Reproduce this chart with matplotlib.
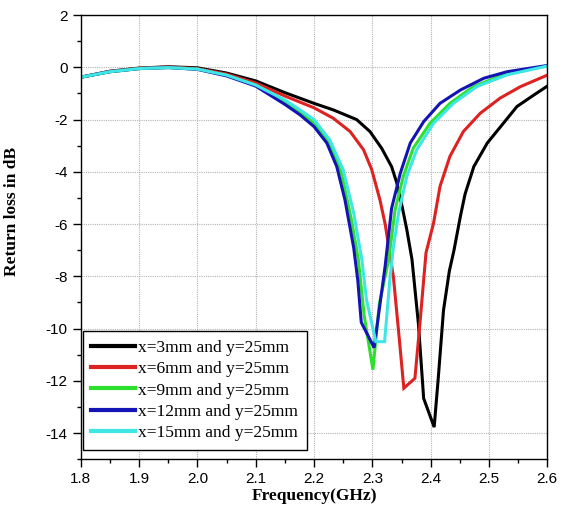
import numpy as np
import matplotlib
matplotlib.use("Agg")
import matplotlib.pyplot as plt
from matplotlib.ticker import MultipleLocator

# return loss curves for the different x values (y fixed at 25mm)
f_x3 = [1.80, 1.85, 1.90, 1.95, 2.00, 2.05, 2.10, 2.15, 2.20, 2.233, 2.273, 2.296,
        2.316, 2.333, 2.342, 2.351, 2.359, 2.368, 2.379, 2.388, 2.406, 2.413, 2.422,
        2.432, 2.440, 2.451, 2.459, 2.474, 2.497, 2.520, 2.548, 2.577, 2.60]
s_x3 = [-0.38, -0.15, -0.03, 0.02, -0.02, -0.22, -0.52, -0.97, -1.38, -1.63, -2.0, -2.46,
        -3.1, -3.8, -4.43, -5.32, -6.2, -7.36, -9.82, -12.67, -13.77, -11.9, -9.3,
        -7.8, -7.0, -5.7, -4.85, -3.8, -2.9, -2.27, -1.5, -1.06, -0.72]

f_x6 = [1.80, 1.85, 1.90, 1.95, 2.00, 2.05, 2.10, 2.15, 2.20, 2.233, 2.262, 2.285,
        2.299, 2.313, 2.322, 2.336, 2.346, 2.354, 2.373, 2.382, 2.392, 2.405, 2.416,
        2.433, 2.456, 2.485, 2.519, 2.554, 2.60]
s_x6 = [-0.38, -0.16, -0.04, 0.01, -0.05, -0.26, -0.6, -1.1, -1.55, -1.95, -2.46, -3.16,
        -3.92, -5.07, -6.0, -8.0, -10.34, -12.28, -11.9, -9.7, -7.1, -5.96, -4.56,
        -3.41, -2.46, -1.76, -1.18, -0.74, -0.3]

f_x9 = [1.80, 1.85, 1.90, 1.95, 2.00, 2.05, 2.10, 2.15, 2.176, 2.20, 2.227, 2.247,
        2.264, 2.276, 2.286, 2.301, 2.312, 2.328, 2.339, 2.353, 2.370, 2.399, 2.433,
        2.473, 2.531, 2.60]
s_x9 = [-0.38, -0.17, -0.05, -0.01, -0.07, -0.31, -0.68, -1.3, -1.73, -2.14, -2.9, -4.05,
        -5.83, -7.36, -9.5, -11.57, -9.05, -7.36, -5.45, -4.18, -3.1, -2.14, -1.38,
        -0.74, -0.23, 0.05]

f_x12 = [1.80, 1.85, 1.90, 1.95, 2.00, 2.05, 2.10, 2.15, 2.176, 2.20, 2.222, 2.239,
         2.253, 2.268, 2.275, 2.281, 2.303, 2.322, 2.333, 2.348, 2.365, 2.388, 2.416,
         2.451, 2.491, 2.531, 2.60]
s_x12 = [-0.38, -0.17, -0.05, -0.01, -0.08, -0.33, -0.72, -1.42, -1.82, -2.27, -2.9, -3.8,
         -5.07, -6.9, -8.14, -9.76, -10.73, -7.6, -5.4, -4.05, -2.9, -2.08, -1.38,
         -0.87, -0.42, -0.17, 0.07]

f_x15 = [1.80, 1.85, 1.90, 1.95, 2.00, 2.05, 2.10, 2.15, 2.176, 2.20, 2.227, 2.25,
         2.268, 2.282, 2.290, 2.306, 2.321, 2.330, 2.336, 2.345, 2.359, 2.376, 2.405,
         2.439, 2.479, 2.531, 2.60]
s_x15 = [-0.38, -0.17, -0.05, -0.01, -0.07, -0.3, -0.68, -1.25, -1.63, -2.0, -2.78, -3.92,
         -5.58, -7.36, -8.9, -10.5, -10.5, -8.14, -6.9, -5.58, -4.18, -3.16, -2.14,
         -1.38, -0.74, -0.29, 0.05]

labels = ["x=3mm and y=25mm", "x=6mm and y=25mm", "x=9mm and y=25mm",
          "x=12mm and y=25mm", "x=15mm and y=25mm"]
colors = ["#000000", "#dd2222", "#2ee02e", "#1414b4", "#3ee6e6"]

fig = plt.figure(figsize=(5.61, 5.29), dpi=100)
ax = fig.add_axes([0.1439, 0.1318, 0.8317, 0.8398])

series = [(f_x3, s_x3), (f_x6, s_x6), (f_x9, s_x9), (f_x12, s_x12), (f_x15, s_x15)]
for (f, s), lab, c in zip(series, labels, colors):
    ax.plot(f, s, color=c, lw=2.2, label=lab, solid_joinstyle="miter")

ax.set_xlim(1.8, 2.6)
ax.set_ylim(-15, 2)
ax.xaxis.set_major_locator(MultipleLocator(0.1))
ax.xaxis.set_minor_locator(MultipleLocator(0.05))
ax.yaxis.set_major_locator(MultipleLocator(2))
ax.yaxis.set_minor_locator(MultipleLocator(1))
ax.set_xticklabels([f"{v:.1f}" for v in ax.get_xticks()])
ax.set_yticks(np.arange(-14, 3, 2))
ax.set_yticklabels([str(int(v)) for v in np.arange(-14, 3, 2)])

ax.tick_params(which="major", direction="out", length=6, width=1, pad=3.5,
               labelsize=11, labelfontfamily="Liberation Sans")
ax.tick_params(which="minor", direction="out", length=3, width=1)
for sp in ax.spines.values():
    sp.set_linewidth(1.0)

ax.grid(True, which="major", color="#b4b4b4", linestyle=(0, (1, 1)), linewidth=0.8)
ax.set_axisbelow(True)

ax.set_xlabel("Frequency(GHz)", fontsize=12.5, fontweight="bold", family="Liberation Serif")
ax.set_ylabel("Return loss in dB", fontsize=12.5, fontweight="bold", family="Liberation Serif")
ax.xaxis.set_label_coords(0.5, -0.064)
ax.yaxis.set_label_coords(-0.13, 0.557)

leg = ax.legend(loc="lower left", bbox_to_anchor=(0.004, 0.021), borderaxespad=0,
                prop={"family": "Liberation Serif", "size": 12.5},
                handlelength=2.5, handletextpad=0.2, labelspacing=0.3,
                borderpad=0.5, fancybox=False, framealpha=1, edgecolor="black")
leg.get_frame().set_linewidth(1.0)
for h in leg.get_lines():
    h.set_linewidth(3.0)

fig.savefig("out.png", dpi=100)
